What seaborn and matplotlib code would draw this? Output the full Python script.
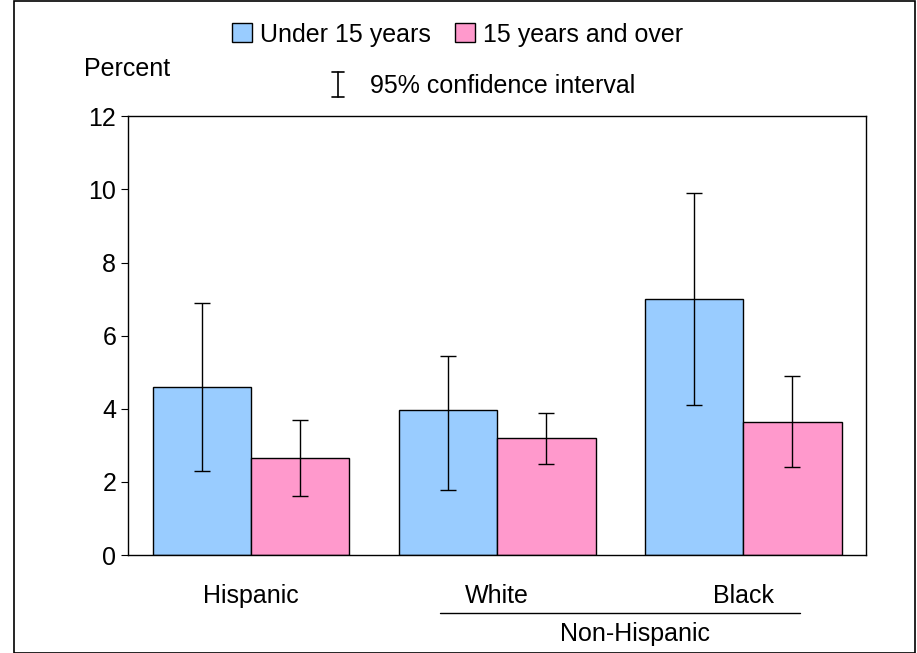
import pandas as pd
import matplotlib.pyplot as plt
import seaborn as sns
from matplotlib.lines import Line2D
from matplotlib.patches import Patch, Rectangle

groups = ["Hispanic", "White", "Black"]
ages = ["Under 15 years", "15 years and over"]
under15 = [4.6, 3.96, 6.99]
under15_lo = [2.3, 1.78, 4.1]
under15_hi = [6.89, 5.44, 9.89]
over15 = [2.65, 3.2, 3.63]
over15_lo = [1.61, 2.49, 2.4]
over15_hi = [3.69, 3.88, 4.89]

df = pd.DataFrame({
    "group": groups * 2,
    "age": [ages[0]] * 3 + [ages[1]] * 3,
    "pct": under15 + over15,
})
lo = under15_lo + over15_lo
hi = under15_hi + over15_hi

colors = ["#99CCFF", "#FF99CC"]
sns.set_style("white")
plt.rcParams["font.family"] = ["Liberation Sans", "DejaVu Sans"]
plt.rcParams["text.color"] = "black"
plt.rcParams["xtick.color"] = "black"
plt.rcParams["ytick.color"] = "black"

fs = 18
fig = plt.figure(figsize=(9.17, 6.53), dpi=100)
ax = fig.add_axes([0.1396, 0.150, 0.805, 0.672])
sns.barplot(data=df, x="group", y="pct", hue="age", palette=colors,
            width=0.8, edgecolor="black", linewidth=1, saturation=1,
            errorbar=None, legend=False, ax=ax)

# error bars at bar centres
for i, p in enumerate(ax.patches[:6]):
    xc = p.get_x() + p.get_width() / 2
    v = df["pct"][i]
    ax.errorbar(xc, v, yerr=[[v - lo[i]], [hi[i] - v]], fmt="none",
                ecolor="black", elinewidth=1, capsize=6, capthick=1)

ax.set_xlim(-0.5, 2.5)
ax.set_ylim(0, 12)
ax.set_yticks(range(0, 13, 2))
ax.tick_params(axis="y", labelsize=fs, left=True, length=5, direction="out",
               labelcolor="black")
ax.tick_params(axis="x", labelsize=fs, bottom=False, pad=17, labelcolor="black")
ax.set_xlabel("")
ax.set_ylabel("")
for s in ax.spines.values():
    s.set_color("black")
    s.set_linewidth(1)

fig.text(0.092, 1 - 69 / 653, "Percent", fontsize=fs, va="center")
fig.text(0.692, 1 - 634 / 653, "Non-Hispanic", fontsize=fs, ha="center", va="center")
fig.add_artist(Line2D([440 / 917, 800 / 917], [1 - 613 / 653] * 2, color="black", lw=1))

handles = [Patch(facecolor=c, edgecolor="black") for c in colors]
fig.legend(handles, ages, loc="center", bbox_to_anchor=(0.499, 0.947), ncol=2,
           frameon=False, fontsize=fs, handlelength=0.8, handleheight=0.8,
           handletextpad=0.3, columnspacing=1.0)

# confidence interval key
x0 = 338 / 917
yb, yt = 1 - 97 / 653, 1 - 72 / 653
fig.add_artist(Line2D([x0, x0], [yb, yt], color="black", lw=1.2))
for yy in (yb, yt):
    fig.add_artist(Line2D([x0 - 0.007, x0 + 0.007], [yy, yy], color="black", lw=1.2))
fig.text(0.403, 1 - 86 / 653, "95% confidence interval", fontsize=fs, va="center")

fig.add_artist(Rectangle((0.015, 0.0), 0.983, 0.998, transform=fig.transFigure,
                         fill=False, edgecolor="black", lw=1.2))

fig.savefig("out.png", dpi=100)
